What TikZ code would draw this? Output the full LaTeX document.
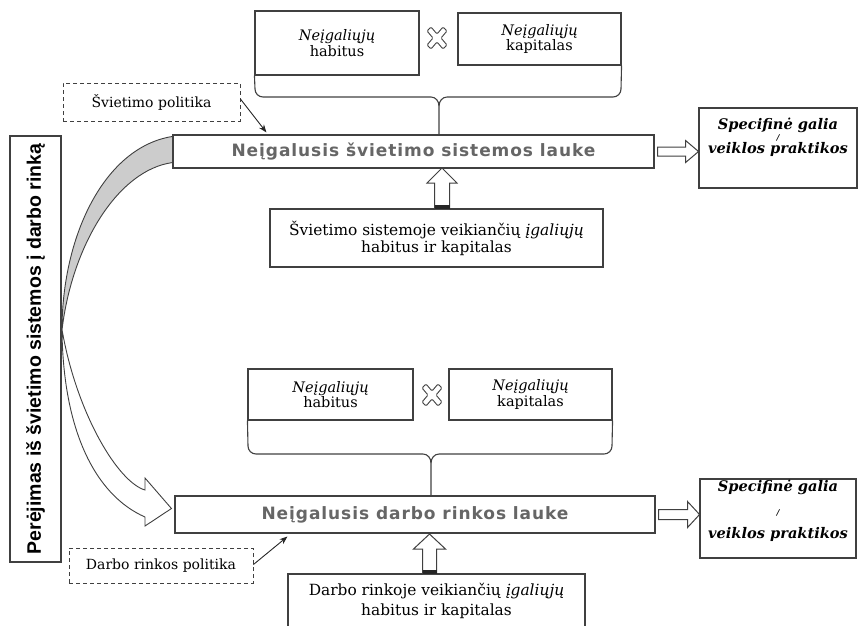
\documentclass[tikz,border=0pt]{standalone}
\usepackage{fontspec}
\setmainfont{DejaVu Serif}
\newfontfamily\headfont{DejaVu Sans}[LetterSpace=5.5]
\newfontfamily\vertfont{Liberation Sans}
\usetikzlibrary{arrows.meta,calc}
\definecolor{linec}{gray}{0.25}
\definecolor{headc}{gray}{0.40}
\definecolor{bandc}{gray}{0.80}
\newcommand\setfs[2]{\fontsize{#1}{#2}\selectfont}
\begin{document}
\begin{tikzpicture}[x=1pt,y=-1pt,
  box/.style={draw=linec,line width=1.1pt,fill=white,inner sep=0pt,align=center},
  dbox/.style={box,dash pattern=on 4pt off 3pt,line width=0.9pt},
  habbox/.style={box,font=\setfs{14.5}{15.5}},
  mainbox/.style={box,font=\headfont\bfseries\setfs{17}{20},text=headc},
  spectext/.style={inner sep=0pt,align=center,font=\bfseries\itshape\setfs{14.6}{12}},
  bodytext/.style={inner sep=0pt,align=center,font=\setfs{15.4}{17}},
  polarrow/.style={line width=0.9pt,draw=black!85,-{Stealth[length=8pt,width=6pt]}},
  brace/.style={draw=linec,line width=1.1pt},
  blockarrow/.style={draw=linec,line width=1pt,fill=white,line join=miter},
  xmark/.style={draw=linec,line width=0.9pt,fill=white,rounded corners=1.2pt},
  bendline/.style={draw=linec,line width=0.9pt}
]
\useasboundingbox (0,0) rectangle (861,625);

% ---------- upper group ----------
\node[habbox,minimum width=164,minimum height=64] (hab1) at (337,43) {\itshape Neįgaliųjų\\habitus};
\node[habbox,minimum width=163,minimum height=52] (kap1) at (539.5,39) {\itshape Neįgaliųjų\\kapitalas};
\begin{scope}[shift={(437,38)}]
  \draw[xmark] (0,-4) -- (6,-11) -- (10,-7) -- (4,0) -- (10,7) -- (6,11) -- (0,4) -- (-6,11) -- (-10,7) -- (-4,0) -- (-10,-7) -- (-6,-11) -- cycle;
\end{scope}

\node[mainbox,minimum width=481,minimum height=33] (main1) at (413.5,151.5) {Neįgalusis švietimo sistemos lauke};

\draw[brace] (hab1.south west) -- (255,89) to[out=-90,in=180] (263,97) -- (431,97) to[out=0,in=90] (439,106) -- (main1.north -| 439,0);
\draw[brace] (kap1.south east) -- (621,89) to[out=-90,in=0] (613,97) -- (447,97) to[out=180,in=90] (439,106);

\node[box,minimum width=158,minimum height=80] (spec1) at (778,148) {};
\node[spectext] (spec1t) at (778,137.5) {Specifinė galia\\[-0.5pt]{\setfs{8}{8}/}\\[1pt]veiklos praktikos};

\node[dbox,font=\setfs{14}{16}] (pol1) [minimum width=177,minimum height=38] at (151.5,102) {Švietimo politika};
\draw[polarrow] ([yshift=3pt]pol1.east) -- ([xshift=94pt,yshift=2pt]main1.north west);

\node[box,minimum width=333,minimum height=58] (box1) at (436.5,238) {};
\node[bodytext] (box1t) at (436.5,238.5) {Švietimo sistemoje veikiančių \textit{įgaliųjų}\\habitus ir kapitalas};

% right block arrow 1
\begin{scope}[shift={(main1.east)}]
  \draw[blockarrow] (3,-4.5) -- (31,-4.5) -- (31,-11) -- (44,0) -- (31,11) -- (31,4.5) -- (3,4.5) -- cycle;
\end{scope}
% up block arrow 1
\begin{scope}[shift={(442,168)}]
  \draw[blockarrow] (0,0) -- (15,15) -- (7.5,15) -- (7.5,41) -- (-7.5,41) -- (-7.5,15) -- (-15,15) -- cycle;
  \fill[black!85] (-7.5,37) rectangle (7.5,41);
\end{scope}

% ---------- lower group ----------
\node[habbox,minimum width=165,minimum height=51] (hab2) at (330.5,394.5) {\itshape Neįgaliųjų\\habitus};
\node[habbox,minimum width=163,minimum height=51] (kap2) at (530.5,394.5) {\itshape Neįgaliųjų\\kapitalas};
\begin{scope}[shift={(432,395)}]
  \draw[xmark] (0,-4) -- (6,-11) -- (10,-7) -- (4,0) -- (10,7) -- (6,11) -- (0,4) -- (-6,11) -- (-10,7) -- (-4,0) -- (-10,-7) -- (-6,-11) -- cycle;
\end{scope}

\node[mainbox,minimum width=480,minimum height=37] (main2) at (415,514.5) {Neįgalusis darbo rinkos lauke};

\draw[brace] (hab2.south west) -- (248,446) to[out=-90,in=180] (256,454) -- (423,454) to[out=0,in=90] (431,463) -- (main2.north -| 431,0);
\draw[brace] (kap2.south east) -- (612,446) to[out=-90,in=0] (604,454) -- (439,454) to[out=180,in=90] (431,463);

\node[box,minimum width=156,minimum height=79] (spec2) at (778,518.5) {};
\node[spectext,font=\bfseries\itshape\setfs{14.6}{23.5}] (spec2t) at (778,511) {Specifinė galia\\{\setfs{8}{8}/}\\veiklos praktikos};

\node[dbox,font=\setfs{14}{16}] (pol2) [minimum width=184,minimum height=35] at (161,565.5) {Darbo rinkos politika};
\draw[polarrow] ([yshift=1pt]pol2.east) -- ([xshift=113pt,yshift=-3pt]main2.south west);

\node[box,minimum width=297,minimum height=80] (box2) at (436.5,614) {};
\node[bodytext,font=\setfs{15.4}{20}] (box2t) at (436.5,600.5) {Darbo rinkoje veikiančių \textit{įgaliųjų}\\habitus ir kapitalas};

\begin{scope}[shift={(main2.east)}]
  \draw[blockarrow] (3,-5) -- (32,-5) -- (32,-13) -- (44,0) -- (32,13) -- (32,5) -- (3,5) -- cycle;
\end{scope}
\begin{scope}[shift={(429.5,534)}]
  \draw[blockarrow] (0,0) -- (16,15) -- (7,15) -- (7,40) -- (-7,40) -- (-7,15) -- (-16,15) -- cycle;
  \fill[black!85] (-7,35.5) rectangle (7,40);
\end{scope}

% ---------- transition ----------
\node[box,minimum width=51,minimum height=426] (trans) at (35.5,349) {};
\node[rotate=90,inner sep=0pt,font=\vertfont\bfseries\setfs{19.5}{22}] (transt) at (trans.center) {Perėjimas iš švietimo sistemos į darbo rinką};

\coordinate (bendtop) at ([yshift=-2pt]main1.north west);
\coordinate (bendbot) at ([yshift=6pt]main1.south west);
\coordinate (bendmid) at (62,330);
\filldraw[bendline,fill=bandc] (bendtop) .. controls (105,147) and (62,235) .. (bendmid)
   .. controls (72,245) and (118,170) .. (bendbot) -- cycle;
\coordinate (tipb) at ([yshift=6pt]main2.west);
\draw[bendline,fill=white] (bendmid) .. controls (63,430) and (95,495) .. (145,517)
   -- (145,526) -- ([xshift=-3pt]tipb) -- (145,478) -- (145,490)
   .. controls (118,482) and (78,415) .. (63,335) -- cycle;
\end{tikzpicture}
\end{document}
